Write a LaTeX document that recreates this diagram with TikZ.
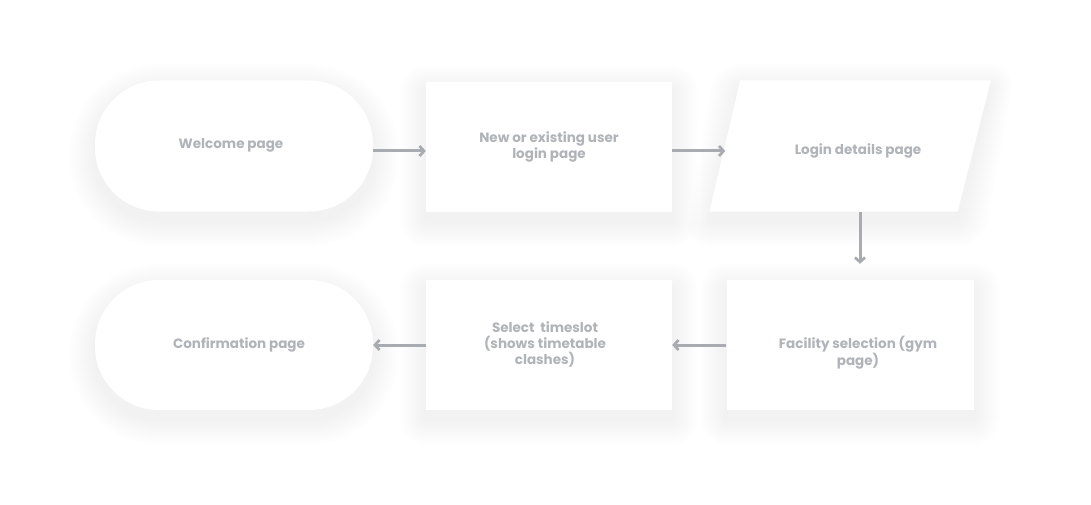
\documentclass[tikz,border=0pt]{standalone}
\usepackage{fontspec}
\setmainfont{Poppins}
\usetikzlibrary{arrows.meta}
\definecolor{txt}{HTML}{B0B3B8}
\definecolor{arr}{HTML}{A8ACB1}
\pgfdeclarelayer{bg}
\pgfdeclarelayer{mid}
\pgfsetlayers{bg,mid,main}
\tikzset{
  card/.style={fill=white, draw=none, inner sep=0pt},
  boxnode/.style={card, rectangle, minimum width=246pt, minimum height=129pt},
  pillnode/.style={card, rectangle, rounded corners=64pt, minimum width=278pt, minimum height=131pt},
  paranode/.style={rectangle, draw=none, inner sep=0pt, minimum width=281pt, minimum height=131pt},
  lbl/.style={font=\fontsize{13.5}{16}\selectfont\bfseries, text=txt, align=center, inner sep=0pt},
  shade/.style={fill=black, opacity=0.0035},
  flow/.style={draw=arr, line width=3pt, -{Straight Barb[length=4.5pt,width=10pt,line width=2.7pt]}}
}
\begin{document}
\begin{tikzpicture}[x=1pt,y=-1pt]
\useasboundingbox (0,0) rectangle (1091,505);
\node[pillnode] (w) at (234,146) {};
\node[boxnode] (n) at (549,147) {};
\node[paranode] (l) at (850,146) {};
\node[pillnode, minimum height=130pt] (c) at (234,345) {};
\node[boxnode, minimum height=130pt] (s) at (549,345) {};
\node[boxnode, minimum height=130pt, minimum width=247pt] (f) at (850,345) {};
% parallelogram face
\begin{pgfonlayer}{mid}
\fill[white] ([xshift=31pt]l.north west) -- (l.north east) -- ([xshift=-33pt]l.south east) -- (l.south west) -- cycle;
\end{pgfonlayer}
% soft shadows
\begin{pgfonlayer}{bg}
\fill[white] (0,0) rectangle (1091,505);
\foreach \i in {2,4,...,26}{
  \fill[shade, rounded corners=64+\i] ([shift={(-\i,-\i+9)}]w.north west) rectangle ([shift={(\i,\i+9)}]w.south east);
  \fill[shade, rounded corners=64+\i] ([shift={(-\i,-\i+9)}]c.north west) rectangle ([shift={(\i,\i+9)}]c.south east);
  \fill[shade, rounded corners=\i] ([shift={(-\i,-\i+9)}]n.north west) rectangle ([shift={(\i,\i+9)}]n.south east);
  \fill[shade, rounded corners=\i] ([shift={(-\i,-\i+9)}]s.north west) rectangle ([shift={(\i,\i+9)}]s.south east);
  \fill[shade, rounded corners=\i] ([shift={(-\i,-\i+9)}]f.north west) rectangle ([shift={(\i,\i+9)}]f.south east);
  \fill[shade, rounded corners=\i] ([shift={(31-\i,-\i+9)}]l.north west) -- ([shift={(\i,-\i+9)}]l.north east) -- ([shift={(-33+\i,\i+9)}]l.south east) -- ([shift={(-\i,\i+9)}]l.south west) -- cycle;
}
\end{pgfonlayer}
% labels
\node[lbl] (wt) at (231,145) {Welcome page};
\node[lbl] (nt) at (549,147) {New or existing user\\login page};
\node[lbl] (lt) at (858,151) {Login details page};
\node[lbl] (ct) at (239,345) {Confirmation page};
\node[lbl] (st) at (545,345) {Select\ \ timeslot\\(shows timetable\\clashes)};
\node[lbl] (ft) at (858,353) {Facility selection (gym\\page)};
% connectors
\draw[flow] ([yshift=-5pt]w.east) -- ([yshift=-4pt]n.west);
\draw[flow] ([yshift=-4pt]n.east) -- ([yshift=-5pt,xshift=16pt]l.west);
\draw[flow, shorten >=16pt] ([xshift=10pt]l.south) -- ([xshift=10pt]f.north);
\draw[flow] (f.west) -- (s.east);
\draw[flow] (s.west) -- (c.east);
\end{tikzpicture}
\end{document}
